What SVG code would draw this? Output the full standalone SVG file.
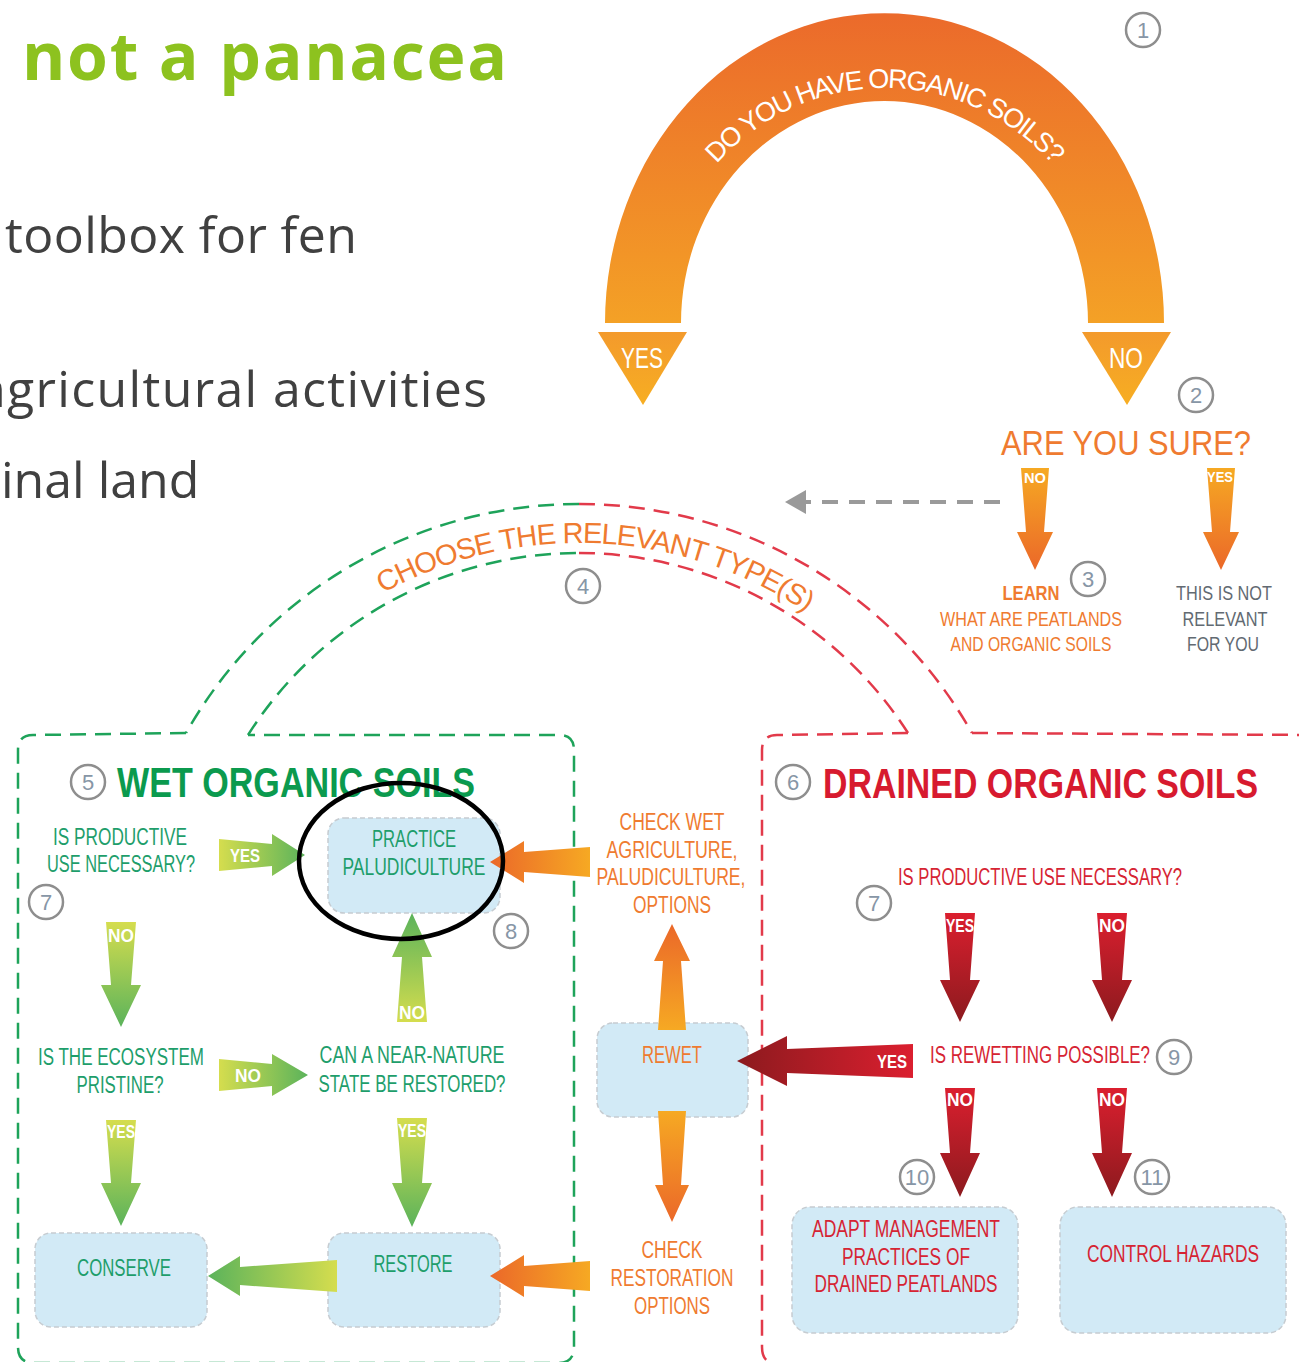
<svg xmlns="http://www.w3.org/2000/svg" width="1299" height="1362" viewBox="0 0 1299 1362">
<style>
.c{font-family:'Liberation Sans Narrow','Liberation Sans',Arial,sans-serif;text-anchor:middle;font-size:23px}
.gt{fill:#1E9E6B}.rt{fill:#D62433}.ot{fill:#EF7B30}.yt{fill:#626a72}
.wl{fill:#fff;font-size:19px;font-weight:bold}
.box{fill:#D2EAF6;stroke:#C6CCD1;stroke-width:1.5;stroke-dasharray:5 3}
.num circle{fill:#fff;stroke:#8E8E8E;stroke-width:2.5}
.num text{font-family:'Liberation Sans Narrow','Liberation Sans',Arial,sans-serif;font-size:22px;fill:#8796A6;text-anchor:middle}
.gd{fill:none;stroke:#1EA35A;stroke-width:2.5;stroke-dasharray:16 9}
.rd{fill:none;stroke:#E23A4A;stroke-width:2.5;stroke-dasharray:16 9}
.body{font-family:'Open Sans','DejaVu Sans',sans-serif;font-size:50px;fill:#404040}
</style>
<defs>
<linearGradient id="gBand" x1="0" y1="0" x2="0" y2="1"><stop offset="0" stop-color="#EB6A2B"/><stop offset="1" stop-color="#F4A126"/></linearGradient>
<linearGradient id="gTri" x1="0" y1="0" x2="0" y2="1"><stop offset="0" stop-color="#F39A2C"/><stop offset="1" stop-color="#F7AE22"/></linearGradient>
<linearGradient id="gOrDown" x1="0" y1="0" x2="0" y2="1"><stop offset="0" stop-color="#F6A923"/><stop offset="1" stop-color="#EB6829"/></linearGradient>
<linearGradient id="gOrUp" x1="0" y1="1" x2="0" y2="0"><stop offset="0" stop-color="#F6A923"/><stop offset="1" stop-color="#EB6829"/></linearGradient>
<linearGradient id="gOrLeft" x1="1" y1="0" x2="0" y2="0"><stop offset="0" stop-color="#F6A923"/><stop offset="1" stop-color="#EB6829"/></linearGradient>
<linearGradient id="gGrDown" x1="0" y1="0" x2="0" y2="1"><stop offset="0" stop-color="#D5DD4E"/><stop offset="1" stop-color="#5BB35B"/></linearGradient>
<linearGradient id="gGrUp" x1="0" y1="1" x2="0" y2="0"><stop offset="0" stop-color="#D5DD4E"/><stop offset="1" stop-color="#5BB35B"/></linearGradient>
<linearGradient id="gGrRight" x1="0" y1="0" x2="1" y2="0"><stop offset="0" stop-color="#D5DD4E"/><stop offset="1" stop-color="#5BB35B"/></linearGradient>
<linearGradient id="gGrLeft" x1="1" y1="0" x2="0" y2="0"><stop offset="0" stop-color="#D5DD4E"/><stop offset="1" stop-color="#5BB35B"/></linearGradient>
<linearGradient id="gRdDown" x1="0" y1="0" x2="0" y2="1"><stop offset="0" stop-color="#DB1F2F"/><stop offset="1" stop-color="#8C1A1E"/></linearGradient>
<linearGradient id="gRdLeft" x1="1" y1="0" x2="0" y2="0"><stop offset="0" stop-color="#DB1F2F"/><stop offset="1" stop-color="#8C1A1E"/></linearGradient>
<path id="arcTop" d="M 656.5,323 A 228 235 0 0 1 1112.5,323"/>
<path id="arcChoose" d="M 226.5,746.5 A 407 407 0 0 1 931.5,746.5"/>
</defs>

<g id="slide-text">
<text x="22" y="80" font-family="'Open Sans','DejaVu Sans',sans-serif" font-weight="bold" font-size="66" fill="#8DC21F" textLength="485" lengthAdjust="spacing">not a panacea</text>
<text class="body" x="5" y="253" textLength="352" lengthAdjust="spacing">toolbox for fen</text>
<text class="body" x="-22" y="407" textLength="509" lengthAdjust="spacing">agricultural activities</text>
<text class="body" x="1" y="498">inal land</text>
</g>

<g id="q1-organic-soils">
<path d="M 605,323 A 279.5 310 0 0 1 1164,323 L 1088,323 A 203.5 222 0 0 0 681,323 Z" fill="url(#gBand)"/>
<polygon points="598,332 687,332 643,405" fill="url(#gTri)"/>
<polygon points="1082,332 1171,332 1127,405" fill="url(#gTri)"/>
<text class="c" fill="#fff" style="font-size:27px;letter-spacing:-1.6px"><textPath href="#arcTop" startOffset="50%">DO YOU HAVE ORGANIC SOILS?</textPath></text>
<text class="c" x="642" y="368" fill="#fff" style="font-size:30px" textLength="42" lengthAdjust="spacingAndGlyphs">YES</text>
<text class="c" x="1126" y="368" fill="#fff" style="font-size:30px" textLength="34" lengthAdjust="spacingAndGlyphs">NO</text>
</g>

<g id="q2-are-you-sure">
<text class="c ot" x="1126" y="455" style="font-size:35px" textLength="250" lengthAdjust="spacingAndGlyphs">ARE YOU SURE?</text>
</g>

<g id="n3-learn">
<text class="c ot" x="1031" y="600" font-weight="bold" style="font-size:21px" textLength="57" lengthAdjust="spacingAndGlyphs">LEARN</text>
<text class="c ot" x="1031" y="626" style="font-size:21px" textLength="182" lengthAdjust="spacingAndGlyphs">WHAT ARE PEATLANDS</text>
<text class="c ot" x="1031" y="651" style="font-size:21px" textLength="161" lengthAdjust="spacingAndGlyphs">AND ORGANIC SOILS</text>
</g>

<g id="not-relevant">
<text class="c yt" x="1224" y="600" style="font-size:21px" textLength="96" lengthAdjust="spacingAndGlyphs">THIS IS NOT</text>
<text class="c yt" x="1225" y="626" style="font-size:21px" textLength="85" lengthAdjust="spacingAndGlyphs">RELEVANT</text>
<text class="c yt" x="1223" y="651" style="font-size:21px" textLength="72" lengthAdjust="spacingAndGlyphs">FOR YOU</text>
</g>

<g id="q4-choose-type">
<path class="gd" d="M 579,504 A 451 451 0 0 0 186,733"/>
<path class="gd" d="M 248,735 A 392 392 0 0 1 579,553"/>
<path class="rd" d="M 579,504 A 451 451 0 0 1 972,733"/>
<path class="rd" d="M 579,553 A 392 392 0 0 1 908,733"/>
<text class="c ot" style="font-size:29px;letter-spacing:-1px"><textPath href="#arcChoose" startOffset="444">CHOOSE THE RELEVANT TYPE(S)</textPath></text>
</g>

<g id="wet-organic-soils">
<path class="gd" d="M 186,733 L 33,735 Q 18,735 18,750 L 18,1347 Q 18,1363 34,1363 L 558,1363 Q 574,1363 574,1347 L 574,750 Q 574,735 559,735 L 248,735"/>
<text x="117" y="797" font-family="'Liberation Sans Narrow','Liberation Sans',Arial,sans-serif" font-weight="bold" font-size="42" fill="#0B9A4E" textLength="358" lengthAdjust="spacingAndGlyphs">WET ORGANIC SOILS</text>
<text class="c gt" x="120" y="845" textLength="134" lengthAdjust="spacingAndGlyphs">IS PRODUCTIVE</text>
<text class="c gt" x="121" y="872" textLength="148" lengthAdjust="spacingAndGlyphs">USE NECESSARY?</text>
<text class="c gt" x="121" y="1065" textLength="166" lengthAdjust="spacingAndGlyphs">IS THE ECOSYSTEM</text>
<text class="c gt" x="120" y="1093" textLength="87" lengthAdjust="spacingAndGlyphs">PRISTINE?</text>
<text class="c gt" x="412" y="1063" textLength="185" lengthAdjust="spacingAndGlyphs">CAN A NEAR-NATURE</text>
<text class="c gt" x="412" y="1092" textLength="187" lengthAdjust="spacingAndGlyphs">STATE BE RESTORED?</text>
</g>

<g id="practice-paludiculture">
<rect class="box" x="328" y="818" width="172" height="95" rx="16"/>
<text class="c gt" x="414" y="847" textLength="84" lengthAdjust="spacingAndGlyphs">PRACTICE</text>
<text class="c gt" x="414" y="875" textLength="143" lengthAdjust="spacingAndGlyphs">PALUDICULTURE</text>
</g>

<g id="conserve">
<rect class="box" x="35" y="1233" width="172" height="94" rx="16"/>
<text class="c gt" x="124" y="1276" textLength="94" lengthAdjust="spacingAndGlyphs">CONSERVE</text>
</g>

<g id="restore">
<rect class="box" x="328" y="1233" width="172" height="94" rx="16"/>
<text class="c gt" x="413" y="1272" textLength="79" lengthAdjust="spacingAndGlyphs">RESTORE</text>
</g>

<g id="check-wet">
<text class="c ot" x="672" y="830" textLength="105" lengthAdjust="spacingAndGlyphs">CHECK WET</text>
<text class="c ot" x="672" y="858" textLength="131" lengthAdjust="spacingAndGlyphs">AGRICULTURE,</text>
<text class="c ot" x="671" y="885" textLength="149" lengthAdjust="spacingAndGlyphs">PALUDICULTURE,</text>
<text class="c ot" x="672" y="913" textLength="78" lengthAdjust="spacingAndGlyphs">OPTIONS</text>
</g>

<g id="rewet">
<rect class="box" x="597" y="1023" width="151" height="94" rx="16"/>
<text class="c ot" x="672" y="1063" textLength="60" lengthAdjust="spacingAndGlyphs">REWET</text>
</g>

<g id="check-restoration">
<text class="c ot" x="672" y="1258" textLength="61" lengthAdjust="spacingAndGlyphs">CHECK</text>
<text class="c ot" x="672" y="1286" textLength="123" lengthAdjust="spacingAndGlyphs">RESTORATION</text>
<text class="c ot" x="672" y="1314" textLength="76" lengthAdjust="spacingAndGlyphs">OPTIONS</text>
</g>

<g id="drained-organic-soils">
<path class="rd" d="M 908,733 L 777,735 Q 762,735 762,750 L 762,1347 Q 762,1364 778,1364 L 1310,1364"/>
<path class="rd" d="M 972,733 L 1310,735"/>
<text x="823" y="798" font-family="'Liberation Sans Narrow','Liberation Sans',Arial,sans-serif" font-weight="bold" font-size="42" fill="#D71A2F" textLength="435" lengthAdjust="spacingAndGlyphs">DRAINED ORGANIC SOILS</text>
<text class="c rt" x="1040" y="885" textLength="284" lengthAdjust="spacingAndGlyphs">IS PRODUCTIVE USE NECESSARY?</text>
<text class="c rt" x="1040" y="1063" textLength="220" lengthAdjust="spacingAndGlyphs">IS REWETTING POSSIBLE?</text>
</g>

<g id="adapt-management">
<rect class="box" x="792" y="1207" width="226" height="126" rx="18"/>
<text class="c rt" x="906" y="1237" textLength="188" lengthAdjust="spacingAndGlyphs">ADAPT MANAGEMENT</text>
<text class="c rt" x="906" y="1265" textLength="128" lengthAdjust="spacingAndGlyphs">PRACTICES OF</text>
<text class="c rt" x="906" y="1292" textLength="183" lengthAdjust="spacingAndGlyphs">DRAINED PEATLANDS</text>
</g>

<g id="control-hazards">
<rect class="box" x="1060" y="1207" width="226" height="126" rx="18"/>
<text class="c rt" x="1173" y="1262" textLength="172" lengthAdjust="spacingAndGlyphs">CONTROL HAZARDS</text>
</g>

<g id="connectors">
<line x1="1000" y1="502" x2="805" y2="502" stroke="#9A9A9A" stroke-width="4" stroke-dasharray="16 11"/>
<polygon points="806,490 806,514 785,502" fill="#9A9A9A"/>
<polygon points="1021,468 1049,468 1044,532 1053,532 1035,570 1017,532 1026,532" fill="url(#gOrDown)"/>
<polygon points="1207,468 1235,468 1230,532 1239,532 1221,570 1203,532 1212,532" fill="url(#gOrDown)"/>
<text class="c wl" x="1035" y="483" style="font-size:15px" textLength="22" lengthAdjust="spacingAndGlyphs">NO</text>
<text class="c wl" x="1220" y="482" style="font-size:15px" textLength="26" lengthAdjust="spacingAndGlyphs">YES</text>

<polygon points="219,839 272,844 272,834 305,855 272,876 272,866 219,871" fill="url(#gGrRight)"/>
<text class="c wl" x="245" y="862" textLength="30" lengthAdjust="spacingAndGlyphs">YES</text>
<polygon points="106,922 136,922 131,985 141,985 121,1027 101,985 111,985" fill="url(#gGrDown)"/>
<text class="c wl" x="121" y="942" textLength="26" lengthAdjust="spacingAndGlyphs">NO</text>
<polygon points="397,1022 427,1022 422,957 432,957 412,913 392,957 402,957" fill="url(#gGrUp)"/>
<text class="c wl" x="412" y="1019" textLength="26" lengthAdjust="spacingAndGlyphs">NO</text>
<polygon points="219,1059 272,1064 272,1054 308,1075 272,1096 272,1086 219,1091" fill="url(#gGrRight)"/>
<text class="c wl" x="248" y="1082" textLength="26" lengthAdjust="spacingAndGlyphs">NO</text>
<polygon points="106,1120 136,1120 131,1183 141,1183 121,1226 101,1183 111,1183" fill="url(#gGrDown)"/>
<text class="c wl" x="121" y="1138" textLength="28" lengthAdjust="spacingAndGlyphs">YES</text>
<polygon points="397,1118 427,1118 422,1183 432,1183 412,1227 392,1183 402,1183" fill="url(#gGrDown)"/>
<text class="c wl" x="412" y="1137" textLength="28" lengthAdjust="spacingAndGlyphs">YES</text>
<polygon points="337,1260 240,1267 240,1256 208,1276 240,1296 240,1285 337,1292" fill="url(#gGrLeft)"/>

<polygon points="590,847 524,852 524,841 490,862 524,883 524,872 590,877" fill="url(#gOrLeft)"/>
<polygon points="590,1261 524,1266 524,1255 490,1276 524,1297 524,1286 590,1291" fill="url(#gOrLeft)"/>
<polygon points="658,1030 686,1030 681,961 690,961 672,924 654,961 663,961" fill="url(#gOrUp)"/>
<polygon points="658,1111 686,1111 681,1185 689,1185 672,1222 655,1185 663,1185" fill="url(#gOrDown)"/>

<polygon points="945,913 975,913 970,980 980,980 960,1022 940,980 950,980" fill="url(#gRdDown)"/>
<text class="c wl" x="960" y="932" textLength="28" lengthAdjust="spacingAndGlyphs">YES</text>
<polygon points="1097,913 1127,913 1122,980 1132,980 1112,1022 1092,980 1102,980" fill="url(#gRdDown)"/>
<text class="c wl" x="1112" y="932" textLength="26" lengthAdjust="spacingAndGlyphs">NO</text>
<polygon points="913,1044 787,1049 787,1036 737,1061 787,1086 787,1073 913,1078" fill="url(#gRdLeft)"/>
<text class="c wl" x="892" y="1068" textLength="30" lengthAdjust="spacingAndGlyphs">YES</text>
<polygon points="945,1088 975,1088 970,1153 980,1153 960,1197 940,1153 950,1153" fill="url(#gRdDown)"/>
<text class="c wl" x="960" y="1106" textLength="26" lengthAdjust="spacingAndGlyphs">NO</text>
<polygon points="1097,1088 1127,1088 1122,1153 1132,1153 1112,1197 1092,1153 1102,1153" fill="url(#gRdDown)"/>
<text class="c wl" x="1112" y="1106" textLength="26" lengthAdjust="spacingAndGlyphs">NO</text>
</g>

<g id="step-numbers" class="num">
<g><circle cx="1143" cy="30" r="17"/><text x="1143" y="38">1</text></g>
<g><circle cx="1196" cy="395" r="17"/><text x="1196" y="403">2</text></g>
<g><circle cx="1088" cy="579" r="17"/><text x="1088" y="587">3</text></g>
<g><circle cx="583" cy="586" r="17"/><text x="583" y="594">4</text></g>
<g><circle cx="88" cy="782" r="17"/><text x="88" y="790">5</text></g>
<g><circle cx="793" cy="782" r="17"/><text x="793" y="790">6</text></g>
<g><circle cx="46" cy="902" r="17"/><text x="46" y="910">7</text></g>
<g><circle cx="874" cy="903" r="17"/><text x="874" y="911">7</text></g>
<g><circle cx="511" cy="931" r="17"/><text x="511" y="939">8</text></g>
<g><circle cx="1174" cy="1057" r="17"/><text x="1174" y="1065">9</text></g>
<g><circle cx="917" cy="1177" r="17"/><text x="917" y="1185">10</text></g>
<g><circle cx="1152" cy="1177" r="17"/><text x="1152" y="1185">11</text></g>
</g>

<g id="highlight">
<ellipse cx="401" cy="861" rx="102" ry="78" fill="none" stroke="#000" stroke-width="4.5"/>
</g>
</svg>
